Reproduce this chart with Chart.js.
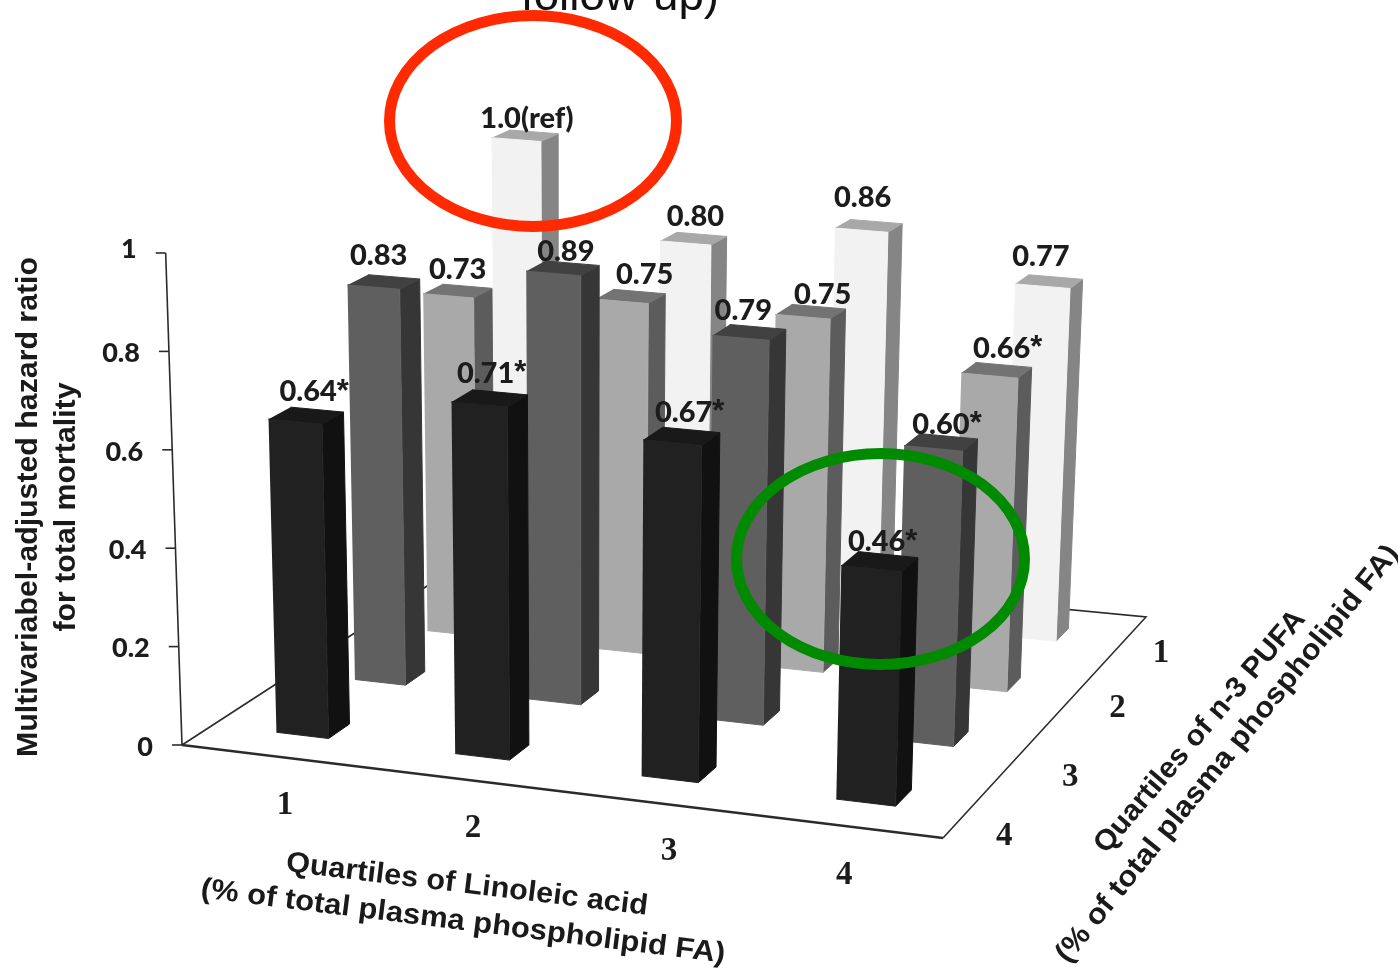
<!DOCTYPE html>
<html>
<head>
<meta charset="utf-8">
<title>Hazard ratio by quartiles</title>
<script src="https://cdn.jsdelivr.net/npm/chart.js@4"></script>
<style>
    html, body { margin: 0; padding: 0; background: #fff; overflow: hidden; }
    canvas { display: block; }
</style>
</head>
<body>
<canvas id="chart" width="1398" height="969"></canvas>
<script>
// values, one list per n-3 PUFA quartile
const laQuartiles = ["1", "2", "3", "4"];
const pufaQuartiles = ["1", "2", "3", "4"];
const hrPufa1 = [1.0, 0.80, 0.86, 0.77];
const hrPufa2 = [0.73, 0.75, 0.75, 0.66];
const hrPufa3 = [0.83, 0.89, 0.79, 0.60];
const hrPufa4 = [0.64, 0.71, 0.67, 0.46];
const textPufa1 = ["1.0(ref)", "0.80", "0.86", "0.77"];
const textPufa2 = ["0.73", "0.75", "0.75", "0.66*"];
const textPufa3 = ["0.83", "0.89", "0.79", "0.60*"];
const textPufa4 = ["0.64*", "0.71*", "0.67*", "0.46*"];
const hrTicks = [0, 0.2, 0.4, 0.6, 0.8, 1];
const hrTickLabels = ["0", "0.2", "0.4", "0.6", "0.8", "1"];

// back row first, so the front rows paint over it
// nudgeX / nudgeY = small shifts of the value labels
const rows = [
    { values: hrPufa1, texts: textPufa1, depth: 3, front: "#f2f2f2", side: "#858585", top: "#a8a8a8", nudgeX: [3, 3, -5, -7], nudgeY: [4, -0.5, -6.5, -3.5] },
    { values: hrPufa2, texts: textPufa2, depth: 2, front: "#a9a9a9", side: "#5c5c5c", top: "#737373", nudgeX: [1, 15, 13, 6], nudgeY: [0, 0, 4, 0] },
    { values: hrPufa3, texts: textPufa3, depth: 1, front: "#5f5f5f", side: "#363636", top: "#414141", nudgeX: [-4, 4, -5, 1], nudgeY: [-5, 5, 0, 4] },
    { values: hrPufa4, texts: textPufa4, depth: 0, front: "#212121", side: "#111111", top: "#191919", nudgeX: [3, -3, 3, -2], nudgeY: [-2, -3, -2, 2] }
];

// floor corners on the page: (u,v) = (0,0) (1,0) (1,1) (0,1)
const floorX = [182, 943, 1146, 478];
const floorY = [745, 838, 617, 553];
const barU = 0.074;
const barV = 0.066;
const barShift = -0.003;

// tweaks for the quartile numbers, which were placed by hand in the original
const laNudgeX = [1, 7, 13, -10];
const pufaNudgeX = [1, 4, 7, -4];
const pufaNudgeY = [-9, -5, 9, 8];

// square to quad mapping for the floor
const den = (floorX[1] - floorX[2]) * (floorY[3] - floorY[2]) - (floorX[3] - floorX[2]) * (floorY[1] - floorY[2]);
const sx = floorX[0] - floorX[1] + floorX[2] - floorX[3];
const sy = floorY[0] - floorY[1] + floorY[2] - floorY[3];
const pg = (sx * (floorY[3] - floorY[2]) - (floorX[3] - floorX[2]) * sy) / den;
const ph = ((floorX[1] - floorX[2]) * sy - sx * (floorY[1] - floorY[2])) / den;

function project(u, v, hr) {
    const w = pg * u + ph * v + 1;
    const x = ((floorX[1] - floorX[0] + pg * floorX[1]) * u + (floorX[3] - floorX[0] + ph * floorX[3]) * v + floorX[0]) / w;
    const y = ((floorY[1] - floorY[0] + pg * floorY[1]) * u + (floorY[3] - floorY[0] + ph * floorY[3]) * v + floorY[0]) / w;
    const rise = hr * (492 + 26 * u - 70 * v + 16 * (1 - u) * v);
    return { x: x + rise * (x - 580) / 12000, y: y - rise };
}

function face(points, color) {
    return {
        data: points,
        showLine: true,
        fill: "shape",
        backgroundColor: color,
        borderColor: color,
        borderWidth: 1,
        tension: 0,
        pointRadius: 0
    };
}

function edge(points, width) {
    return {
        data: points,
        showLine: true,
        fill: false,
        borderColor: "#2b2b2b",
        borderWidth: width,
        tension: 0,
        pointRadius: 0
    };
}

const datasets = [];
datasets.push(edge([project(0, 1, 0), project(1, 1, 0), project(1, 0, 0)], 1.6));
datasets.push(edge([project(0, 1, 0), project(0, 0, 0)], 1.6));
datasets.push(edge([project(0, 0, 0), project(1, 0, 0)], 2.4));
datasets.push(edge([project(0, 0, 0), project(0, 0, 1)], 1.6));
hrTicks.forEach(function (t) {
    const p = project(0, 0, t);
    datasets.push(edge([p, { x: p.x - 10, y: p.y }], 1.6));
});

rows.forEach(function (row) {
    row.values.forEach(function (hr, i) {
        const u0 = (i + 0.5) / 4 - barShift - barU / 2, u1 = u0 + barU;
        const v0 = (row.depth + 0.5) / 4 - barV / 2, v1 = v0 + barV;
        datasets.push(face([project(u1, v0, 0), project(u1, v1, 0), project(u1, v1, hr), project(u1, v0, hr)], row.side));
        datasets.push(face([project(u0, v0, hr), project(u1, v0, hr), project(u1, v1, hr), project(u0, v1, hr)], row.top));
        datasets.push(face([project(u0, v0, 0), project(u1, v0, 0), project(u1, v0, hr), project(u0, v0, hr)], row.front));
    });
});
// Chart.js paints the first dataset last
datasets.reverse();

// text squeezed to the length it has in the picture
function fitText(ctx, text, cx, cy, deg, length, font, color) {
    ctx.save();
    ctx.translate(cx, cy);
    ctx.rotate(deg * Math.PI / 180);
    ctx.font = font;
    ctx.fillStyle = color;
    ctx.textAlign = "center";
    ctx.textBaseline = "middle";
    ctx.scale(length / ctx.measureText(text).width, 1);
    ctx.fillText(text, 0, 0);
    ctx.restore();
}

const numberFont = "900 29px Lato";
const starFont = "700 31px 'Liberation Sans'";
const quartileFont = "700 33px 'Liberation Serif'";
const titleFont = "700 29px 'Liberation Sans'";

const annotations = {
    id: "annotations",
    afterDatasetsDraw(chart) {
        const ctx = chart.ctx;
        const xs = chart.scales.x, ys = chart.scales.y;
        const px = p => ({ x: xs.getPixelForValue(p.x), y: ys.getPixelForValue(p.y) });

        ctx.save();
        ctx.textBaseline = "middle";
        ctx.fillStyle = "#1c1c1c";

        // value labels, centred on the digits so the star hangs off to the right
        ctx.textAlign = "left";
        rows.forEach(function (row) {
            row.texts.forEach(function (text, i) {
                const top = px(project((i + 0.5) / 4 - barShift, (row.depth + 0.5) / 4, row.values[i]));
                const digits = text.replace("*", "");
                ctx.font = numberFont;
                const w = ctx.measureText(digits).width;
                const x = top.x + row.nudgeX[i];
                const y = top.y - 21.5 + row.nudgeY[i];
                ctx.fillText(digits, x - w / 2 - 1, y);
                if (text !== digits) {
                    ctx.font = starFont;
                    ctx.fillText("*", x + w / 2 - 1, y);
                }
            });
        });

        // hazard ratio ticks
        ctx.font = "900 27px Lato";
        ctx.textAlign = "right";
        hrTicks.forEach(function (t, i) {
            const p = px(project(0, 0, t));
            ctx.fillText(hrTickLabels[i], p.x - 29, t === 1 ? p.y - 4 : p.y + 2);
        });

        // quartile labels
        ctx.font = quartileFont;
        ctx.textAlign = "center";
        laQuartiles.forEach(function (q, i) {
            const p = px(project((i + 0.5) / 4, 0, 0));
            ctx.fillText(q, p.x + 14 + laNudgeX[i], p.y + 50);
        });
        pufaQuartiles.forEach(function (q, i) {
            const p = px(project(1, (3 - i + 0.5) / 4, 0));
            ctx.fillText(q, p.x + 36 + pufaNudgeX[i], p.y + 22 + pufaNudgeY[i]);
        });
        ctx.restore();

        // axis titles
        fitText(ctx, "Multivariabel-adjusted hazard ratio", 29, 507, -90, 500, titleFont, "#1a1a1a");
        fitText(ctx, "for total mortality", 67, 507, -90, 249, titleFont, "#1a1a1a");
        fitText(ctx, "Quartiles of Linoleic acid", 467, 885, 6.9, 364, titleFont, "#1a1a1a");
        fitText(ctx, "(% of total plasma phospholipid FA)", 463, 922, 7.1, 528, titleFont, "#1a1a1a");
        fitText(ctx, "Quartiles of n-3 PUFA", 1200, 732, -49.6, 309, titleFont, "#1a1a1a");
        fitText(ctx, "(% of total plasma phospholipid FA)", 1228, 754, -51, 528, titleFont, "#1a1a1a");

        // cut off by the top of the picture in the original too
        fitText(ctx, "follow-up)", 620, -2, 0, 198, "400 44px 'Liberation Sans'", "#111111");

        // hand drawn highlights
        ctx.save();
        ctx.lineWidth = 11;
        ctx.strokeStyle = "#ff2a00";
        ctx.beginPath();
        ctx.ellipse(533, 121, 143.5, 105.5, 0, 0, Math.PI * 2);
        ctx.stroke();
        ctx.strokeStyle = "#008a00";
        ctx.beginPath();
        ctx.ellipse(880.5, 559, 144, 105.5, 0, 0, Math.PI * 2);
        ctx.stroke();
        ctx.restore();
    }
};

new Chart(document.getElementById("chart").getContext("2d"), {
    type: "scatter",
    data: { datasets: datasets },
    options: {
        responsive: false,
        animation: false,
        layout: { padding: 0 },
        plugins: { legend: { display: false }, tooltip: { enabled: false } },
        scales: {
            x: { type: "linear", min: 0, max: 1398, display: false },
            y: { type: "linear", min: 0, max: 969, reverse: true, display: false }
        }
    },
    plugins: [annotations]
});
</script>
</body>
</html>
